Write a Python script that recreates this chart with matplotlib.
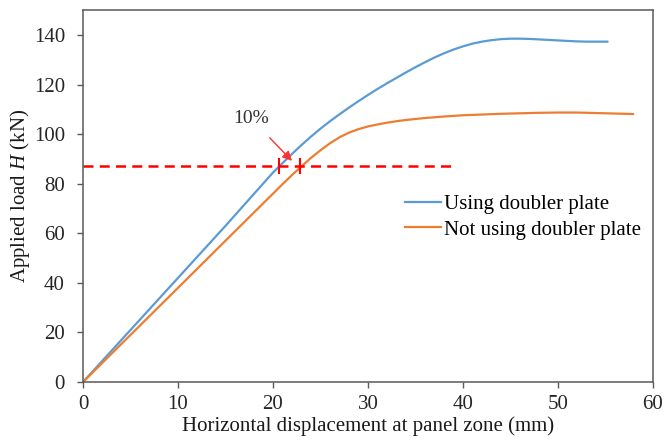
import matplotlib.pyplot as plt
import numpy as np

plt.rcParams['font.family'] = ['Liberation Serif', 'DejaVu Serif']
plt.rcParams['mathtext.fontset'] = 'custom'
plt.rcParams['mathtext.rm'] = 'Liberation Serif'
plt.rcParams['mathtext.it'] = 'Liberation Serif:italic'

# load-displacement curves
disp_doubler = [0, 5, 10, 15, 20, 21, 22, 23, 24, 25, 26, 27, 28, 29, 30, 31, 32, 33, 34, 35, 36, 37, 38, 39,
                40, 41, 42, 43, 44, 45, 46, 47, 48, 49, 50, 51, 52, 53, 54, 55.2]
load_doubler = [0, 21, 42, 63, 84.5, 88.3, 92, 95.6, 99, 102.2, 105.2, 108, 110.7, 113.3, 115.8, 118.2, 120.5,
                122.7, 124.9, 127, 129, 130.9, 132.6, 134.1, 135.4, 136.5, 137.3, 137.9, 138.3, 138.5, 138.5,
                138.4, 138.2, 138, 137.8, 137.6, 137.4, 137.3, 137.3, 137.3]

disp_no_doubler = [0, 5, 10, 15, 20, 21, 22, 23, 24, 25, 26, 27, 28, 29, 30, 31, 32, 33, 34, 35, 36, 38, 40,
                   42, 44, 46, 48, 50, 52, 54, 56, 57.9]
load_no_doubler = [0, 19, 38, 57, 76, 79.8, 83.5, 87, 90.4, 93.5, 96.3, 98.7, 100.6, 102, 103.1, 103.9, 104.6,
                   105.2, 105.7, 106.1, 106.5, 107.1, 107.6, 107.9, 108.2, 108.4, 108.6, 108.7, 108.7, 108.5,
                   108.3, 108.1]

# 10% comparison at constant load
ref_load = 87
ref_end = 39
cross_doubler = 20.6
cross_no_doubler = 22.8

fig = plt.figure(figsize=(6.64, 4.42), dpi=100)
ax = fig.add_axes([0.125, 0.1357, 0.8584, 0.8413])

ax.plot(disp_doubler, load_doubler, color='#5B9BD5', lw=1.6, label='Using doubler plate')
ax.plot(disp_no_doubler, load_no_doubler, color='#ED7D31', lw=1.6, label='Not using doubler plate')

ax.plot([0, ref_end], [ref_load, ref_load], color='#FF0000', lw=1.8, ls=(0, (4, 2.5)))
for xc in (cross_doubler, cross_no_doubler):
    ax.plot([xc, xc], [ref_load - 2.8, ref_load + 2.8], color='#FF0000', lw=1.5)

ax.annotate('10%', xy=(22.2, 88.4), xytext=(17.7, 106.3),
            fontsize=14, color='#333333', ha='center', va='center',
            arrowprops=dict(arrowstyle='-|>', color='#FF3030', lw=1.0,
                            shrinkA=8, mutation_scale=14))

ax.set_xlim(0, 60)
ax.set_ylim(0, 150)
ax.set_xticks(np.arange(0, 61, 10))
ax.set_yticks(np.arange(0, 141, 20))
ax.tick_params(direction='out', length=4, width=1, color='#595959', labelsize=15, colors='#262626')
ax.tick_params(axis='x', pad=5)
ax.tick_params(axis='y', pad=9)
for sp in ax.spines.values():
    sp.set_color('#595959')
    sp.set_linewidth(1.1)

ax.set_xlabel('Horizontal displacement at panel zone (mm)', fontsize=15, color='#1a1a1a', labelpad=2)
ax.set_ylabel('Applied load $\\mathit{H}$ (kN)', fontsize=15, color='#1a1a1a', labelpad=1)

ax.legend(loc='upper left', bbox_to_anchor=(0.565, 0.505), frameon=False, fontsize=15,
          handlelength=1.75, handletextpad=0.1, labelspacing=0.3, borderaxespad=0, borderpad=0)

fig.savefig('out.png', dpi=100)
